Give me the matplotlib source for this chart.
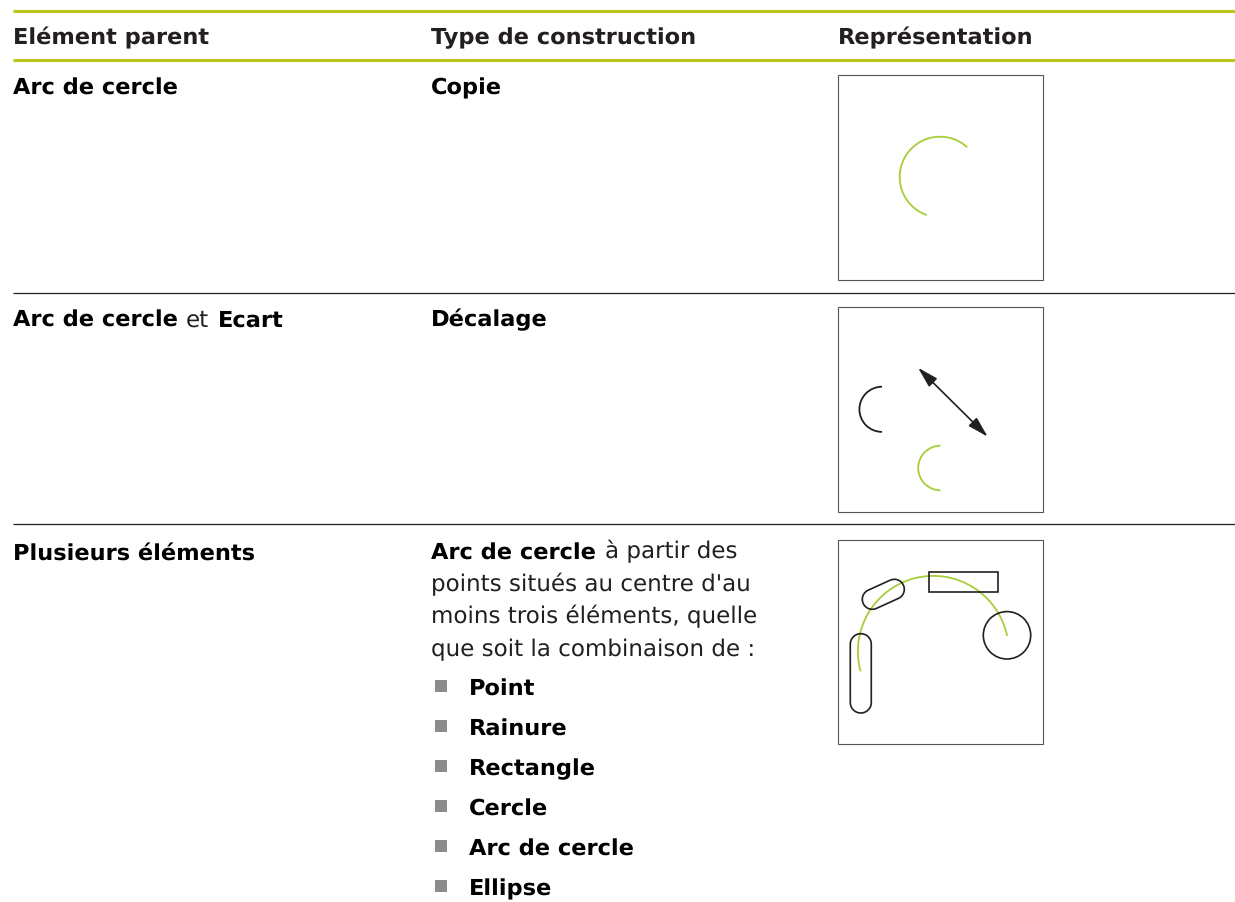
import numpy as np
import matplotlib
matplotlib.use("Agg")
import matplotlib.pyplot as plt
from matplotlib.patches import Arc, Circle, Rectangle, PathPatch
from matplotlib.path import Path

plt.rcParams["text.hinting"] = "no_hinting"
plt.rcParams["text.hinting_factor"] = 8

GREEN_RULE = "#bcc41c"
GREEN_ARC = "#a6ce39"
DARK = "#231f20"
GREY = "#8c8c8c"
BOLD_FONT = "DejaVu Sans"
REG_FONT = "DejaVu Sans"

headers = ["Elément parent", "Type de construction", "Représentation"]
header_x = [13, 431, 838]
bold_rows = [("Arc de cercle", 13, 94.4), ("Copie", 431, 94.4),
             ("Arc de cercle", 13, 326.4), ("Ecart", 218, 326.4), ("Décalage", 431, 326.4),
             ("Plusieurs éléments", 13, 559.4), ("Arc de cercle", 431, 559.4)]
regular_rows = [("et", 186, 326.4), ("à partir des", 605, 558.4),
                ("points situés au centre d'au", 431, 591.4),
                ("moins trois éléments, quelle", 431, 623.4),
                ("que soit la combinaison de :", 431, 656.4)]
bullets = ["Point", "Rainure", "Rectangle", "Cercle", "Arc de cercle", "Ellipse"]
bullet_baselines = [695.4, 735.4, 775.4, 815.4, 855.4, 895.4]
boxes = [(838, 75, 205, 205), (838, 307, 205, 205), (838, 540, 205, 204)]
# arcs: cx, cy, r, theta1, theta2, colour
arcs = [(940, 177, 40.3, 109, 312.6, GREEN_ARC),
        (882, 409.3, 22.6, 90, 270, DARK),
        (940.5, 468, 22.3, 90, 270, GREEN_ARC),
        (933.3, 651.3, 75.4, 164.6, 348.2, GREEN_ARC)]
arrow_ends = [(918, 367.7), (987.7, 436.7)]
rect = (928.7, 571.7, 69.6, 20.6)
circle = (1007, 635.3, 23.7)
slots = [((860.8, 644.2), (860.8, 702.5), 10.5),
         ((872.3, 599.3), (894.3, 589.3), 10.0)]

fig = plt.figure(figsize=(12.35, 9.02), dpi=100)
ax = fig.add_axes([0, 0, 1, 1])
ax.set_xlim(0, 1235)
ax.set_ylim(902, 0)
ax.axis("off")

for y in (11, 60):
    ax.plot([13, 1235], [y, y], color=GREEN_RULE, lw=2.2, solid_capstyle="butt")
for y in (293, 524):
    ax.plot([13, 1235], [y, y], color=DARK, lw=0.9, solid_capstyle="butt")

BS = 16.2
RS = 16.6
for s, x in zip(headers, header_x):
    ax.text(x, 44.4, s, family=BOLD_FONT, weight="bold", fontsize=BS, color=DARK, va="baseline")
for s, x, y in bold_rows:
    ax.text(x, y, s, family=BOLD_FONT, weight="bold", fontsize=BS, color="black", va="baseline")
for s, x, y in regular_rows:
    ax.text(x, y, s, family=REG_FONT, fontsize=RS, color=DARK, va="baseline")
for s, y in zip(bullets, bullet_baselines):
    ax.text(469, y, s, family=BOLD_FONT, weight="bold", fontsize=BS, color="black", va="baseline")
    ax.add_patch(Rectangle((435, round(y) - 15), 12, 12, fc=GREY, ec="none"))

for x, y, w, h in boxes:
    ax.add_patch(Rectangle((x, y), w, h, fc="none", ec="#555555", lw=0.8))
for cx, cy, r, t1, t2, c in arcs:
    ax.add_patch(Arc((cx, cy), 2 * r, 2 * r, theta1=t1, theta2=t2, color=c, lw=1.3))

ax.annotate("", xy=arrow_ends[0], xytext=arrow_ends[1],
            arrowprops=dict(arrowstyle="<|-|>,head_length=0.9,head_width=0.25",
                            color=DARK, lw=1.2, shrinkA=0, shrinkB=0, mutation_scale=14))
ax.add_patch(Rectangle(rect[:2], rect[2], rect[3], fc="none", ec=DARK, lw=1.2))
ax.add_patch(Circle(circle[:2], circle[2], fc="none", ec=DARK, lw=1.2))

for (a, b, r) in slots:
    a, b = np.array(a), np.array(b)
    ang = np.arctan2(b[1] - a[1], b[0] - a[0])
    t1 = np.linspace(ang + np.pi / 2, ang + 3 * np.pi / 2, 30)
    t2 = np.linspace(ang - np.pi / 2, ang + np.pi / 2, 30)
    pts = np.vstack([a + r * np.c_[np.cos(t1), np.sin(t1)],
                     b + r * np.c_[np.cos(t2), np.sin(t2)]])
    pts = np.vstack([pts, pts[0]])
    ax.add_patch(PathPatch(Path(pts), fc="none", ec=DARK, lw=1.2))

fig.savefig("out.png", dpi=100)
